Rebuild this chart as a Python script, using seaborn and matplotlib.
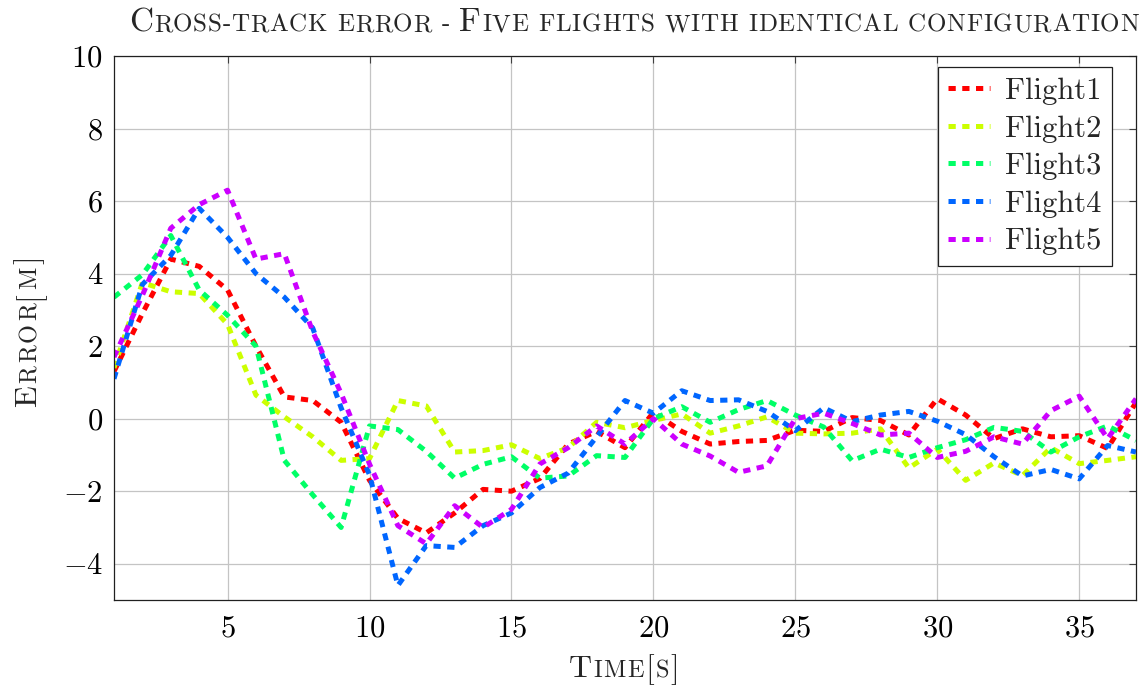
import matplotlib
matplotlib.use("Agg")
import matplotlib.pyplot as plt
import numpy as np
import pandas as pd
import seaborn as sns

# ---- data -------------------------------------------------------------
time = list(range(1, 38))

flight1 = [1.3, 2.9, 4.4, 4.2, 3.55, 2.0, 0.6, 0.5, -0.1, -1.7,
           -2.75, -3.15, -2.6, -1.95, -2.0, -1.65, -0.7, -0.35, -0.8, 0.17,
           -0.35, -0.7, -0.63, -0.6, -0.32, -0.35, 0.03, -0.05, -0.45, 0.55,
           0.1, -0.55, -0.28, -0.5, -0.47, -0.82, 0.45]
flight2 = [1.4, 3.75, 3.5, 3.45, 2.6, 0.65, 0.05, -0.5, -1.15, -1.1,
           0.5, 0.35, -0.92, -0.88, -0.72, -1.1, -0.8, -0.1, -0.25, -0.05,
           0.13, -0.4, -0.2, 0.05, -0.4, -0.42, -0.4, -0.28, -1.36, -0.84,
           -1.7, -1.22, -1.57, -0.8, -1.24, -1.15, -1.05]
flight3 = [3.35, 3.97, 5.05, 3.55, 2.85, 2.0, -1.15, -2.1, -3.0, -0.2,
           -0.3, -0.9, -1.64, -1.26, -1.05, -1.64, -1.58, -1.02, -1.07, 0.0,
           0.33, -0.1, 0.25, 0.5, 0.1, -0.23, -1.16, -0.84, -1.07, -0.8,
           -0.58, -0.24, -0.35, -0.92, -0.5, -0.2, -0.6]
flight4 = [1.1, 3.7, 4.5, 5.8, 5.0, 4.0, 3.35, 2.5, 0.3, -1.55,
           -4.6, -3.5, -3.55, -2.95, -2.6, -1.9, -1.5, -0.5, 0.5, 0.15,
           0.77, 0.5, 0.52, 0.2, -0.33, 0.3, -0.08, 0.1, 0.2, -0.07,
           -0.44, -1.05, -1.58, -1.4, -1.66, -0.74, -0.92]
flight5 = [1.7, 3.4, 5.25, 5.9, 6.3, 4.4, 4.55, 2.4, 0.7, -1.25,
           -2.95, -3.45, -2.4, -3.0, -2.5, -1.25, -0.8, -0.2, -0.7, 0.0,
           -0.7, -1.03, -1.48, -1.3, 0.0, 0.15, -0.13, -0.45, -0.4, -1.07,
           -0.9, -0.5, -0.7, 0.22, 0.62, -0.55, 0.55]

names = ["Flight1", "Flight2", "Flight3", "Flight4", "Flight5"]
series = [flight1, flight2, flight3, flight4, flight5]
colors = ["#ff0000", "#ccff00", "#00ff66", "#0066ff", "#cc00ff"]

xticks = [5, 10, 15, 20, 25, 30, 35]
yticks = [-4, -2, 0, 2, 4, 6, 8, 10]

df = pd.DataFrame({
    "Time": np.tile(time, len(names)),
    "Error": np.concatenate(series),
    "Flight": np.repeat(names, len(time)),
})

# ---- style ------------------------------------------------------------
sns.set_theme(style="white")
plt.rcParams.update({
    "font.family": "cmr10",
    "mathtext.fontset": "cm",
    "axes.formatter.use_mathtext": True,
    "axes.unicode_minus": True,
})

W, H = 1145, 686
fig = plt.figure(figsize=(W / 100, H / 100), dpi=100)
ax = fig.add_axes([114 / W, 1 - 600 / H, 1022 / W, 544 / H])

sns.lineplot(data=df, x="Time", y="Error", hue="Flight", style="Flight",
             palette=colors, dashes=[(1.45, 1.3)] * len(names),
             linewidth=3.6, estimator=None, legend=False, ax=ax)

ax.set_xlim(1, 37)
ax.set_ylim(-5, 10)
ax.set_xticks(xticks)
ax.set_yticks(yticks)
ax.set_xlabel("")
ax.set_ylabel("")
ax.grid(True, color="#c4c4c4", linewidth=0.9)
ax.set_axisbelow(True)
for sp in ax.spines.values():
    sp.set_color("#202020")
    sp.set_linewidth(0.9)
ax.tick_params(direction="in", top=True, right=True, length=5, width=0.8,
               color="#404040", labelsize=22, labelcolor="black")
ax.tick_params(axis="x", pad=11)
ax.tick_params(axis="y", pad=8)

leg = ax.legend(ax.get_lines(), names, loc="upper right",
                bbox_to_anchor=(1 - 24 / 1022, 1 - 11 / 544),
                borderaxespad=0, fancybox=False, framealpha=1,
                edgecolor="#202020", fontsize=22, handlelength=1.35,
                handletextpad=0.5, labelspacing=0.33, borderpad=0.35)
leg.get_frame().set_linewidth(0.9)

# ---- small-caps text --------------------------------------------------
renderer = fig.canvas.get_renderer()


def _width(s, size):
    t = fig.text(0, 0, s, fontsize=size)
    w = t.get_window_extent(renderer).width
    t.remove()
    return w


def _glyphs(text, big, small, tracking):
    out = []
    kind = "big"
    for ch in text:
        if ch.islower():
            kind = "small"
        elif ch.isupper() or ch in "[]":
            kind = "big"
        size = small if kind == "small" else big
        c = ch.upper()
        w = _width("|" + c + "|", size) - _width("||", size) + tracking
        out.append((c, size, w))
    return out


def smallcaps(text, x, y, big, small, tracking=0.0, rotation=0):
    """Draw centred text in small capitals; x, y in pixels (baseline)."""
    glyphs = _glyphs(text, big, small, tracking)
    total = sum(w for _, _, w in glyphs) - tracking
    pos = (x if rotation == 0 else y) - total / 2
    for c, size, w in glyphs:
        if c != " ":
            if rotation == 0:
                fig.text(pos / W, y / H, c, fontsize=size, ha="left",
                         va="baseline")
            else:
                fig.text(x / W, pos / H, c, fontsize=size, ha="left",
                         va="baseline", rotation=90, rotation_mode="anchor")
        pos += w


smallcaps("Cross-track error - Five flights with identical configuration",
          634, H - 31, 24, 18, tracking=0.75)
smallcaps("Time[s]", 624, H - 677, 23, 17.5, tracking=1.5)
smallcaps("Error[m]", 36, H - 331, 23, 17.5, tracking=2.5, rotation=90)

fig.savefig("out.png", dpi=100)
